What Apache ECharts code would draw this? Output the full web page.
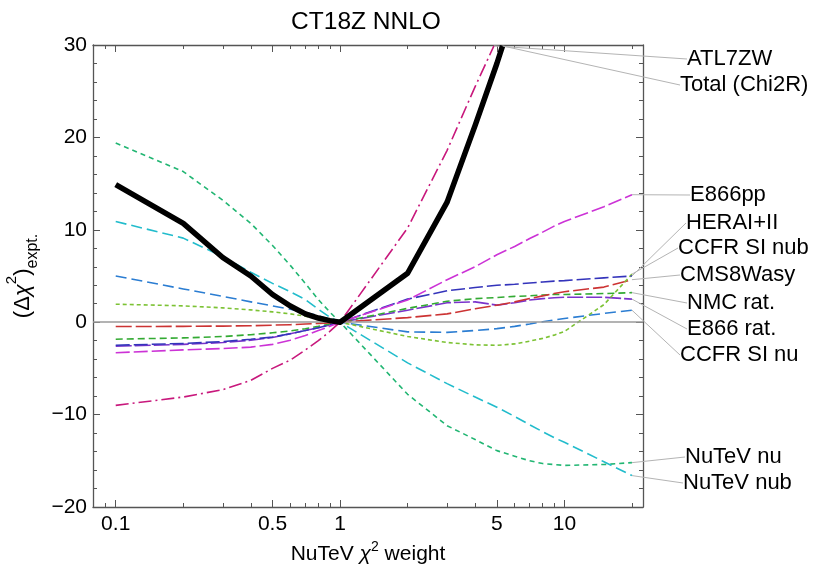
<!DOCTYPE html>
<html><head><meta charset="utf-8">
<script src="https://cdn.jsdelivr.net/npm/echarts@6/dist/echarts.min.js"></script>
<style>html,body{margin:0;padding:0;background:#fff}#c{width:821px;height:565px}</style>
</head><body><div id="c"></div>
<script>
// ---------- data ----------
const weights = [0.1,0.2,0.3,0.4,0.5,0.6,0.7,0.8,0.9,1,2,3,4,5,6,7,8,9,10,15,20];
const weightsTotal = [0.1,0.2,0.3,0.4,0.5,0.6,0.7,0.8,0.9,1,2,3,4,5,5.3];
const weightsATL = [0.1,0.2,0.3,0.4,0.5,0.6,0.7,0.8,0.9,1,2,3,4,4.85];

const totalChi2R = [14.9,10.7,7.0,5.0,3.0,1.75,0.9,0.45,0.17,0,5.3,13.0,21.3,28.0,29.9];
const atl7zw = [-9.0,-8.1,-7.3,-6.3,-5.0,-4.1,-3.0,-2.0,-1.0,0,10.2,18.6,25.5,29.9];
const e866pp = [-3.3,-3.0,-2.85,-2.7,-2.4,-1.95,-1.45,-0.9,-0.45,0,2.4,4.6,6.0,7.3,8.2,9.05,9.75,10.4,10.9,12.5,13.8];
const heraI_II = [-2.5,-2.3,-2.1,-1.85,-1.6,-1.25,-0.9,-0.6,-0.3,0,2.5,3.4,3.75,4.0,4.1,4.25,4.35,4.45,4.5,4.8,5.0];
const ccfrSiNub = [1.95,1.77,1.55,1.33,1.12,0.9,0.65,0.4,0.2,0,-1.55,-2.2,-2.45,-2.5,-2.35,-2.05,-1.75,-1.4,-1.0,1.9,5.2];
const cms8Wasy = [-0.47,-0.45,-0.42,-0.38,-0.32,-0.27,-0.2,-0.13,-0.07,0,0.5,0.9,1.45,1.84,2.2,2.56,2.85,3.1,3.3,3.8,4.6];
const nmcRat = [-1.84,-1.7,-1.55,-1.35,-1.15,-0.95,-0.7,-0.45,-0.2,0,1.5,2.27,2.55,2.67,2.8,2.85,2.95,3.0,3.0,3.1,3.2];
const e866Rat = [-2.6,-2.4,-2.2,-1.95,-1.65,-1.25,-0.9,-0.6,-0.3,0,1.3,2.1,2.2,1.85,2.1,2.4,2.55,2.65,2.7,2.7,2.5];
const ccfrSiNu = [5.0,3.6,2.8,2.2,1.77,1.4,1.05,0.7,0.33,0,-1.05,-1.1,-0.9,-0.7,-0.45,-0.2,0.05,0.25,0.4,0.95,1.3];
const nutevNu = [19.4,16.3,13.2,10.7,8.3,6.15,4.2,2.45,1.1,0,-7.8,-11.2,-12.7,-13.9,-14.5,-15.0,-15.3,-15.4,-15.5,-15.4,-15.2];
const nutevNub = [10.9,9.1,7.1,5.4,4.2,3.3,2.45,1.4,0.55,0,-4.4,-6.65,-8.1,-9.2,-10.2,-11.1,-11.85,-12.5,-13.0,-15.1,-16.6];

const xMajorTicks = [0.1,0.5,1,5,10];
const xMinorTicks = [0.09,0.2,0.3,0.4,0.6,0.7,0.8,0.9,2,3,4,6,7,8,9,20];
const yMin = -20, yMax = 30, yStep = 10;

// ---------- styles (separate from data) ----------
const FONT = 'Liberation Sans';
const seriesStyle = [
  {name:'NuTeV nu',      x: weights, y: nutevNu,   color:'#22b673', dash:[5,4],        w:1.6, lab:[685,457]},
  {name:'NuTeV nub',     x: weights, y: nutevNub,  color:'#22bccc', dash:[11,5],       w:1.6, lab:[683,483]},
  {name:'CCFR SI nu',    x: weights, y: ccfrSiNu,  color:'#2b7dd2', dash:[11,5],       w:1.6, lab:[680,355]},
  {name:'E866 rat.',     x: weights, y: e866Rat,   color:'#7a33cc', dash:[16,3],       w:1.6, lab:[687,329]},
  {name:'NMC rat.',      x: weights, y: nmcRat,    color:'#33aa33', dash:[7,4],        w:1.6, lab:[687,303]},
  {name:'CMS8Wasy',      x: weights, y: cms8Wasy,  color:'#cc3333', dash:[16,4],       w:1.6, lab:[680,275]},
  {name:'CCFR SI nub',   x: weights, y: ccfrSiNub, color:'#7cc234', dash:[4,3],        w:1.6, lab:[678,248]},
  {name:'HERAI+II',      x: weights, y: heraI_II,  color:'#3434bb', dash:[14,4],       w:1.6, lab:[686,223]},
  {name:'E866pp',        x: weights, y: e866pp,    color:'#cc33d6', dash:[14,4],       w:1.6, lab:[690,195]},
  {name:'ATL7ZW',        x: weightsATL, y: atl7zw, color:'#c8187c', dash:[13,4,2,4],   w:1.6, lab:[687,59]},
  {name:'Total (Chi2R)', x: weightsTotal, y: totalChi2R, color:'#000000', dash:'solid', w:5.5, lab:[680,85]}
];

const series = seriesStyle.map((s) => {
  const n = s.x.length;
  const data = s.x.map((xv, i) => {
    const item = { value: [xv, s.y[i]] };
    if (i === n - 1) {
      item.label = { show: true };
      item.labelLine = { show: true };
    }
    return item;
  });
  return {
    type: 'line', name: s.name, data,
    xAxisIndex: 0, yAxisIndex: 0,
    symbol: 'circle', symbolSize: 0, showSymbol: true,
    lineStyle: { color: s.color, width: s.w, type: s.dash, cap: 'butt', join: 'round' },
    itemStyle: { color: s.color },
    z: s.name.startsWith('Total') ? 5 : 3,
    label: { show: false, formatter: s.name, position: 'right', align: 'left', verticalAlign: 'middle',
             fontFamily: FONT, fontSize: 22, color: '#000' },
    labelLine: { show: false, length2: 5, lineStyle: { color: '#b4b4b4', width: 1 } },
    labelLayout: { x: s.lab[0], y: s.lab[1], hideOverlap: false, moveOverlap: null },
    emphasis: { disabled: true },
    clip: true,
    animation: false
  };
});

// zero line
series.unshift({
  type: 'line', data: [], xAxisIndex: 0, yAxisIndex: 0, z: 2,
  markLine: { silent: true, symbol: 'none', label: { show: false },
    lineStyle: { color: '#9a9a9a', width: 1.5, type: 'solid' }, data: [{ yAxis: 0 }], animation: false }
});

const xMin = 0.0792, xMax = 22.4;
const axisColor = '#555';
function logAxis(pos, ticks, len, showLine, showLabel, extra) {
  return Object.assign({
    type: 'log', logBase: 10, min: xMin, max: xMax, position: pos, gridIndex: 0,
    axisLine: { show: showLine, onZero: false, lineStyle: { color: axisColor, width: 1.3 } },
    axisTick: { show: true, inside: true, length: len, customValues: ticks, lineStyle: { color: axisColor, width: 1 } },
    axisLabel: showLabel ? {
      show: true, customValues: ticks, margin: 7, color: '#000', fontFamily: FONT, fontSize: 21,
      formatter: v => String(v)
    } : { show: false },
    splitLine: { show: false }, minorTick: { show: false }, minorSplitLine: { show: false }
  }, extra || {});
}
function valAxis(pos, showLabel) {
  return {
    type: 'value', min: yMin, max: yMax, interval: yStep, position: pos, gridIndex: 0,
    axisLine: { show: true, onZero: false, lineStyle: { color: axisColor, width: 1.3 } },
    axisTick: { show: true, inside: true, length: 7, lineStyle: { color: axisColor, width: 1 } },
    minorTick: { show: true, splitNumber: 5, length: 4, lineStyle: { color: axisColor, width: 1 } },
    axisLabel: showLabel ? { show: true, margin: 6, color: '#000', fontFamily: FONT, fontSize: 21,
      formatter: v => String(v).replace('-', '\u2212') } : { show: false },
    splitLine: { show: false }, minorSplitLine: { show: false }
  };
}

const option = {
  animation: false,
  backgroundColor: '#fff',
  title: { text: 'CT18Z NNLO', left: 361, textAlign: 'center', top: 5,
    textStyle: { fontFamily: FONT, fontSize: 24.5, fontWeight: 'normal', color: '#000' } },
  grid: { left: 93, right: 178, top: 45, bottom: 58, containLabel: false, outerBoundsMode: 'none' },
  xAxis: [
    logAxis('bottom', xMajorTicks, 7, true, true, {
      name: '{a|NuTeV }{i|χ}{s|2}{a| weight}', nameLocation: 'middle', nameGap: 31,
      nameTextStyle: { fontFamily: FONT, fontSize: 21, color: '#000',
        rich: { a: { fontFamily: FONT, fontSize: 21, lineHeight: 28, color: '#000' },
                i: { fontFamily: FONT, fontSize: 21, lineHeight: 28, fontStyle: 'italic', color: '#000' },
                s: { fontFamily: FONT, fontSize: 14, lineHeight: 15, verticalAlign: 'top', color: '#000' } } }
    }),
    logAxis('bottom', xMinorTicks, 4, false, false),
    logAxis('top', xMajorTicks, 7, true, false),
    logAxis('top', xMinorTicks, 4, false, false)
  ],
  yAxis: [
    Object.assign(valAxis('left', true), {
      name: '{a|(Δ}{i|χ}{s|2}{a|)}{b|expt.}', nameLocation: 'middle', nameRotate: 90, nameGap: 52,
      nameTextStyle: { fontFamily: FONT, fontSize: 22, color: '#000',
        rich: { a: { fontFamily: FONT, fontSize: 22, lineHeight: 36, color: '#000' },
                i: { fontFamily: FONT, fontSize: 22, lineHeight: 36, fontStyle: 'italic', color: '#000' },
                s: { fontFamily: FONT, fontSize: 15, lineHeight: 18, verticalAlign: 'top', color: '#000' },
                b: { fontFamily: FONT, fontSize: 16, lineHeight: 17, verticalAlign: 'bottom', color: '#000' } } }
    }),
    valAxis('right', false)
  ],
  series
};

const chart = echarts.init(document.getElementById('c'), null, { renderer: 'canvas' });
chart.setOption(option);
</script>
</body></html>
